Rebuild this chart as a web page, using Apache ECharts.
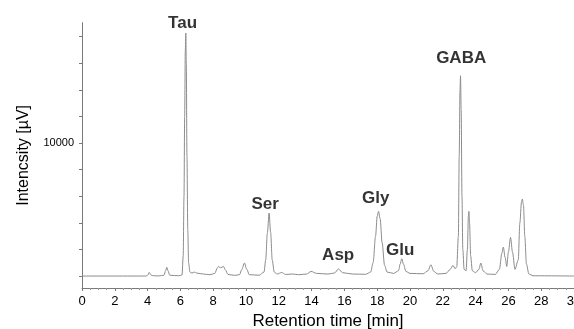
<!DOCTYPE html>
<html>
<head>
<meta charset="utf-8">
<script src="https://cdn.jsdelivr.net/npm/echarts@6/dist/echarts.min.js"></script>
<style>
  html, body { margin: 0; padding: 0; background: #fff; }
  #chart { width: 574px; height: 329px; }
</style>
</head>
<body>
<div id="chart"></div>
<script>
// chromatogram: retention time (min) / signal (µV)
const time = [
  0, 3.9, 4.0, 4.1, 4.2, 4.35, 4.7, 5.0, 5.1, 5.17, 5.25, 5.35, 5.9,
  6.1, 6.17, 6.22, 6.26, 6.3, 6.33, 6.36, 6.4, 6.45, 6.5, 6.58, 6.7, 6.85, 7.0, 7.4, 7.8,
  8.1, 8.25, 8.32, 8.45, 8.62, 8.75, 8.9, 9.3, 9.6, 9.75, 9.9, 10.05, 10.2, 10.8,
  11.1, 11.2, 11.3, 11.41, 11.5, 11.6, 11.72, 11.9, 12.18, 12.4, 12.85, 13.2, 13.7,
  13.97, 14.3, 15.0, 15.4, 15.64, 15.9, 16.5, 17.3,
  17.6, 17.75, 17.9, 18.0, 18.08, 18.18, 18.3, 18.45, 18.6, 19.0,
  19.3, 19.4, 19.5, 19.6, 19.75, 20.0, 20.8, 21.1, 21.27, 21.45, 21.7, 22.2,
  22.45, 22.62, 22.75, 22.85, 22.95, 23.0, 23.05, 23.08, 23.12, 23.17, 23.22, 23.3,
  23.42, 23.5, 23.56, 23.59, 23.63, 23.7, 23.8, 24.0, 24.2, 24.32, 24.45, 24.7, 25.2,
  25.45, 25.6, 25.69, 25.8, 25.9, 26.0, 26.13, 26.25, 26.4,
  26.6, 26.7, 26.8, 26.85, 26.92, 27.0, 27.1, 27.25, 27.5, 30
];
const signal = [
  0, 0, 60, 270, 80, 20, 10, 60, 400, 650, 380, 60, 20,
  80, 1500, 6000, 12000, 17000, 18270, 16000, 9000, 3500, 1000, 300, 220, 300, 220, 150, 100,
  200, 600, 720, 620, 720, 450, 120, 50, 100, 500, 980, 500, 100, 60,
  300, 1200, 3200, 4740, 3300, 1200, 300, 150, 270, 120, 150, 100, 150,
  350, 200, 150, 230, 530, 250, 150, 130,
  300, 1000, 3000, 4500, 4860, 4300, 2500, 800, 300, 200,
  400, 900, 1300, 900, 350, 200, 170, 400, 850, 350, 150, 200,
  500, 800, 550, 700, 3000, 9000, 14000, 15060, 12500, 6000, 2000, 500,
  400, 2000, 4500, 4860, 4000, 1500, 400, 250, 500, 980, 400, 150, 120,
  500, 1700, 2180, 1400, 720, 1800, 2900, 1800, 500,
  1200, 4000, 5600, 5790, 5300, 3000, 900, 150, 20, 0
];

// peak names and where their text sits
const peakNames = ['Tau', 'Ser', 'Asp', 'Gly', 'Glu', 'GABA'];
const peakNameTime = [6.13, 11.17, 15.62, 17.91, 19.40, 23.12];
const peakNameSignal = [18970, 5360, 1560, 5850, 1940, 16340];

const xTicks = [0, 2, 4, 6, 8, 10, 12, 14, 16, 18, 20, 22, 24, 26, 28, 30];
const yTicks = [0, 2000, 4000, 6000, 8000, 10000, 12000, 14000, 16000, 18000];
const yLabels = [10000];

const axisColor = '#7a7a7a';
const font = '"Liberation Sans", Arial, sans-serif';

const chart = echarts.init(document.getElementById('chart'));
chart.setOption({
  animation: false,
  backgroundColor: '#fff',
  grid: { left: 82, right: 0, top: 22.7, bottom: 41, outerBoundsMode: 'none', containLabel: false },
  xAxis: {
    type: 'value',
    min: xTicks[0],
    max: xTicks[xTicks.length - 1],
    interval: 2,
    name: 'Retention time [min]',
    nameLocation: 'middle',
    nameGap: 22,
    nameTextStyle: { color: '#000', fontSize: 17, fontFamily: font },
    axisLine: { onZero: false, lineStyle: { color: axisColor, width: 1 } },
    axisTick: { show: true, length: 3, lineStyle: { color: axisColor } },
    minorTick: { show: true, splitNumber: 4, length: 2, lineStyle: { color: '#999' } },
    axisLabel: { color: '#000', fontSize: 13, fontFamily: font, margin: 7, showMaxLabel: true },
    splitLine: { show: false }
  },
  yAxis: {
    type: 'value',
    min: -900,
    max: 19050,
    name: 'Intencsity [µV]',
    nameLocation: 'middle',
    nameGap: 50,
    nameTextStyle: { color: '#000', fontSize: 16, fontFamily: font },
    axisLine: { show: true, lineStyle: { color: axisColor, width: 1 } },
    axisTick: { show: true, length: 3, customValues: yTicks, lineStyle: { color: axisColor } },
    axisLabel: {
      color: '#000', fontSize: 11, fontFamily: font, margin: 8,
      customValues: yLabels,
      formatter: v => String(v)
    },
    splitLine: { show: false }
  },
  series: [
    {
      type: 'line',
      data: time.map((t, i) => [t, signal[i]]),
      showSymbol: false,
      smooth: 0.3,
      smoothMonotone: 'x',
      lineStyle: { color: '#8c8c8c', width: 1 },
      silent: true
    },
    {
      type: 'scatter',
      data: peakNames.map((n, i) => ({ name: n, value: [peakNameTime[i], peakNameSignal[i]] })),
      symbolSize: 0,
      label: {
        show: true,
        position: 'inside',
        formatter: p => p.name,
        color: '#000',
        fontSize: 17,
        fontWeight: 'bold',
        fontFamily: font
      },
      silent: true
    }
  ]
});
</script>
</body>
</html>
